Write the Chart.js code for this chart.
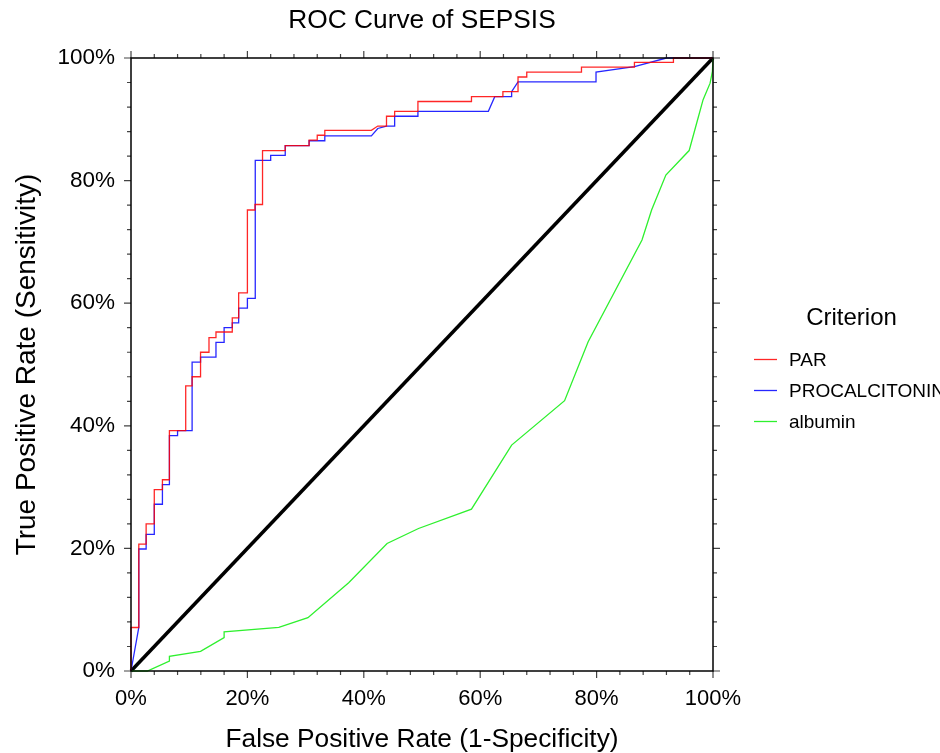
<!DOCTYPE html>
<html><head><meta charset="utf-8">
<script src="https://cdn.jsdelivr.net/npm/chart.js@4.4.1/dist/chart.umd.min.js"></script>
<style>html,body{margin:0;padding:0;background:#fff;}#wrap{width:940px;height:753px;position:relative;}</style>
</head><body><div id="wrap"><canvas id="c" width="940" height="753"></canvas></div>
<script>
// ---- data (percent) ----
const chartTitle = 'ROC Curve of SEPSIS';
const legendTitle = 'Criterion';
const seriesNames = ['PAR', 'PROCALCITONIN', 'albumin'];
const xTitle = 'False Positive Rate (1-Specificity)';
const yTitle = 'True Positive Rate (Sensitivity)';
const tickValues = [0, 20, 40, 60, 80, 100];

const parFpr = [0,0,1.34,1.34,2.6,2.6,4.0,4.0,5.4,5.4,6.6,6.6,9.4,9.4,10.5,10.5,11.95,11.95,13.4,13.4,14.6,14.6,17.4,17.4,18.5,18.5,20.0,20.0,21.3,21.3,22.6,22.6,26.5,26.5,30.6,30.6,32.0,32.0,33.3,33.3,41.3,42.4,43.9,43.9,45.3,45.3,49.3,49.3,58.5,58.5,63.9,63.9,66.5,66.5,68.0,68.0,77.4,77.4,86.5,86.5,93.2,93.2,100];
const parTpr = [0,7.1,7.1,20.7,20.7,24.0,24.0,29.6,29.6,31.2,31.2,39.2,39.2,46.5,46.5,48.0,48.0,52.0,52.0,54.4,54.4,55.3,55.3,57.6,57.6,61.7,61.7,75.2,75.2,76.1,76.1,84.9,84.9,85.7,85.7,86.6,86.6,87.4,87.4,88.2,88.2,88.9,88.9,90.5,90.5,91.3,91.3,92.9,92.9,93.7,93.7,94.5,94.5,96.9,96.9,97.7,97.7,98.5,98.5,99.3,99.3,100,100];

const pctFpr = [0,1.34,1.34,2.6,2.6,4.0,4.0,5.4,5.4,6.6,6.6,8.0,8.0,10.5,10.5,11.95,11.95,14.6,14.6,16.0,16.0,17.4,17.4,18.5,18.5,20.0,20.0,21.35,21.35,24.0,24.0,26.5,26.5,30.6,30.6,33.3,33.3,41.3,42.4,43.9,45.3,45.3,49.3,49.3,61.4,62.5,65.4,65.4,66.5,79.9,79.9,86.5,92.0,100];
const pctTpr = [0,7.1,19.9,19.9,22.3,22.3,27.2,27.2,30.4,30.4,38.4,38.4,39.2,39.2,50.4,50.4,51.2,51.2,53.6,53.6,56.0,56.0,56.8,56.8,59.2,59.2,60.8,60.8,83.3,83.3,84.1,84.1,85.7,85.7,86.5,86.5,87.3,87.3,88.5,88.9,88.9,90.5,90.5,91.3,91.3,93.7,93.7,94.5,96.1,96.1,97.7,98.6,100,100];

const albFpr = [0,2.8,6.6,6.6,11.95,16.0,16.0,25.4,30.4,37.4,44.0,49.4,58.5,65.4,74.5,78.55,87.8,89.45,91.9,95.9,97.2,98.3,99.5,99.9,100];
const albTpr = [0,0,1.6,2.4,3.2,5.45,6.4,7.1,8.7,14.4,20.8,23.25,26.4,36.85,44.1,53.7,70.3,75.2,80.9,84.9,89.4,93.2,95.9,97.8,100];

const refFpr = [0, 100];
const refTpr = [0, 100];

const seriesColors = ['rgba(255,0,0,0.85)', 'rgba(0,0,255,0.85)', '#2ef02e'];

const FONT = "'Liberation Sans', Arial, sans-serif";
const pts = (xs, ys) => xs.map((x, i) => ({x: x, y: ys[i]}));

const framePlugin = {
  id: 'frame',
  afterDraw(chart) {
    const ctx = chart.ctx, a = chart.chartArea;
    const xs = chart.scales.x, ys = chart.scales.y;
    ctx.save();
    // ticks
    ctx.strokeStyle = '#444';
    ctx.lineWidth = 1.2;
    for (let v = 0; v <= 100; v += 4) {
      const len = (v % 20 === 0) ? 7 : 4;
      const px = xs.getPixelForValue(v);
      const py = ys.getPixelForValue(v);
      ctx.beginPath();
      ctx.moveTo(px, a.bottom); ctx.lineTo(px, a.bottom + len);
      ctx.moveTo(px, a.top); ctx.lineTo(px, a.top - len);
      ctx.moveTo(a.left, py); ctx.lineTo(a.left - len, py);
      ctx.moveTo(a.right, py); ctx.lineTo(a.right + len, py);
      ctx.stroke();
    }
    // frame
    ctx.strokeStyle = '#000';
    ctx.lineWidth = 1.5;
    ctx.strokeRect(a.left, a.top, a.right - a.left, a.bottom - a.top);
    // title
    ctx.fillStyle = '#000';
    ctx.font = '26.3px ' + FONT;
    ctx.textAlign = 'center';
    ctx.textBaseline = 'middle';
    ctx.fillText(chartTitle, (a.left + a.right) / 2, 21);
    // legend
    ctx.font = '24px ' + FONT;
    ctx.fillText(legendTitle, 851.5, 318);
    ctx.font = '19px ' + FONT;
    ctx.textAlign = 'left';
    seriesNames.forEach((name, i) => {
      const y = 359.5 + i * 31;
      ctx.strokeStyle = seriesColors[i];
      ctx.lineWidth = 1.3;
      ctx.beginPath(); ctx.moveTo(754, y); ctx.lineTo(777, y); ctx.stroke();
      ctx.fillStyle = '#000';
      ctx.fillText(name, 789, y + 1);
    });
    ctx.restore();
  }
};

new Chart(document.getElementById('c'), {
  type: 'scatter',
  data: {
    datasets: [
      {label: seriesNames[0], data: pts(parFpr, parTpr), borderColor: seriesColors[0], borderWidth: 1.3},
      {label: seriesNames[1], data: pts(pctFpr, pctTpr), borderColor: seriesColors[1], borderWidth: 1.3},
      {label: seriesNames[2], data: pts(albFpr, albTpr), borderColor: seriesColors[2], borderWidth: 1.3},
      {label: 'reference', data: pts(refFpr, refTpr), borderColor: '#000', borderWidth: 3.5}
    ].map(d => Object.assign(d, {showLine: true, pointRadius: 0, pointHoverRadius: 0, fill: false, tension: 0, clip: false, backgroundColor: d.borderColor}))
  },
  options: {
    responsive: false,
    animation: false,
    devicePixelRatio: 1,
    events: [],
    layout: {padding: {left: 0, top: 58, right: 227, bottom: 0}},
    plugins: {legend: {display: false}, title: {display: false}, tooltip: {enabled: false}},
    scales: {
      x: {
        type: 'linear', position: 'bottom', min: 0, max: 100,
        afterFit(s) { s.height = 82; },
        afterBuildTicks(s) { s.ticks = tickValues.map(v => ({value: v})); },
        grid: {display: false, drawTicks: false},
        border: {display: false},
        ticks: {callback: v => v + '%', font: {family: FONT, size: 22}, color: '#000', padding: 15, maxRotation: 0, autoSkip: false},
        title: {display: true, text: xTitle, font: {family: FONT, size: 26.3, lineHeight: 1.0}, color: '#000', padding: {top: 0, bottom: 0}}
      },
      y: {
        type: 'linear', position: 'left', min: 0, max: 100,
        afterFit(s) { s.width = 131; },
        afterBuildTicks(s) { s.ticks = tickValues.map(v => ({value: v})); },
        grid: {display: false, drawTicks: false},
        border: {display: false},
        ticks: {callback: v => v + '%', font: {family: FONT, size: 22.5}, color: '#000', padding: 16, autoSkip: false},
        title: {display: true, text: yTitle, font: {family: FONT, size: 28, lineHeight: 1.0}, color: '#000', padding: {top: 13, bottom: 0}}
      }
    }
  },
  plugins: [framePlugin]
});
</script></body></html>
